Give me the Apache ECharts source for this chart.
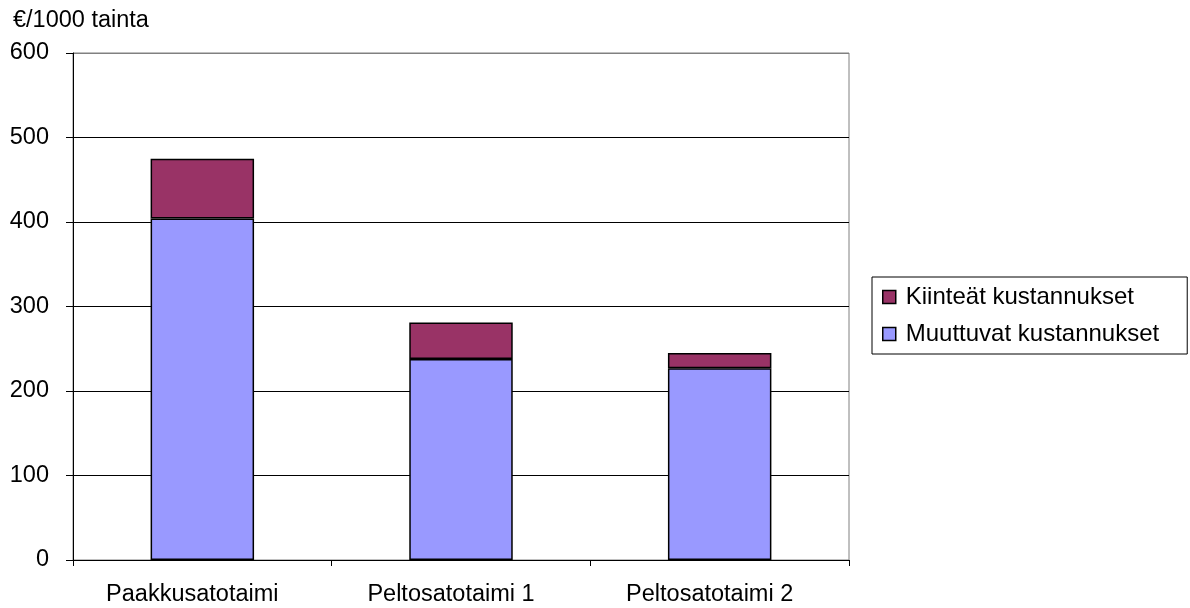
<!DOCTYPE html>
<html>
<head>
<meta charset="utf-8">
<script src="https://cdn.jsdelivr.net/npm/echarts@6/dist/echarts.min.js"></script>
<style>html,body{margin:0;padding:0;background:#fff;}#c{width:1190px;height:608px;}</style>
</head>
<body>
<div id="c"></div>
<script>
const categories = ['Paakkusatotaimi', 'Peltosatotaimi 1', 'Peltosatotaimi 2'];
const muuttuvat = [404, 238, 227];
const kiinteat = [71, 43, 18];
const seriesNames = ['Muuttuvat kustannukset', 'Kiinteät kustannukset'];
const yTicks = { min: 0, max: 600, interval: 100 };
const yTitle = '€/1000 tainta';

const font = 'Liberation Sans, Arial, sans-serif';
const fs = 23.5;
const chart = echarts.init(document.getElementById('c'), null, { renderer: 'canvas' });
chart.setOption({
  animation: false,
  backgroundColor: '#fff',
  title: {
    text: yTitle, left: 8, top: 4,
    textStyle: { fontFamily: font, fontSize: fs, fontWeight: 'normal', color: '#000' }
  },
  grid: {
    left: 73, right: 341, top: 53, bottom: 48,
    show: true, borderColor: '#808080', borderWidth: 1, containLabel: false
  },
  legend: {
    orient: 'vertical',
    left: 872, top: 277,
    padding: [8, 28, 8, 10],
    itemGap: 13,
    itemWidth: 13, itemHeight: 13,
    borderColor: '#000', borderWidth: 1,
    data: [seriesNames[1], seriesNames[0]],
    textStyle: { fontFamily: font, fontSize: 24, color: '#000', padding: [0, 0, 0, 5] },
    icon: 'rect',
    itemStyle: { borderColor: '#000', borderWidth: 1.5 }
  },
  xAxis: {
    type: 'category',
    data: categories,
    axisLine: { lineStyle: { color: '#000', width: 1 } },
    axisTick: { show: true, alignWithLabel: false, length: 6, lineStyle: { color: '#000' } },
    axisLabel: { fontFamily: font, fontSize: fs, color: '#000', margin: 23, padding: [0, 20, 0, 0] }
  },
  yAxis: {
    type: 'value',
    min: yTicks.min, max: yTicks.max, interval: yTicks.interval,
    axisLine: { show: true, lineStyle: { color: '#000', width: 1 } },
    axisTick: { show: true, length: 7, lineStyle: { color: '#000' } },
    splitLine: { show: true, lineStyle: { color: ['#000', '#000', '#000', '#000', '#000', '#000', '#808080'], width: 1 } },
    axisLabel: { fontFamily: font, fontSize: fs, color: '#000', margin: 24 }
  },
  series: [
    {
      name: seriesNames[0], type: 'bar', stack: 'total', data: muuttuvat,
      barWidth: '40%',
      itemStyle: { color: '#9999FF', borderColor: '#000', borderWidth: 1.5 }
    },
    {
      name: seriesNames[1], type: 'bar', stack: 'total', data: kiinteat,
      barWidth: '40%',
      itemStyle: { color: '#993366', borderColor: '#000', borderWidth: 1.5 }
    }
  ]
});
</script>
</body>
</html>
